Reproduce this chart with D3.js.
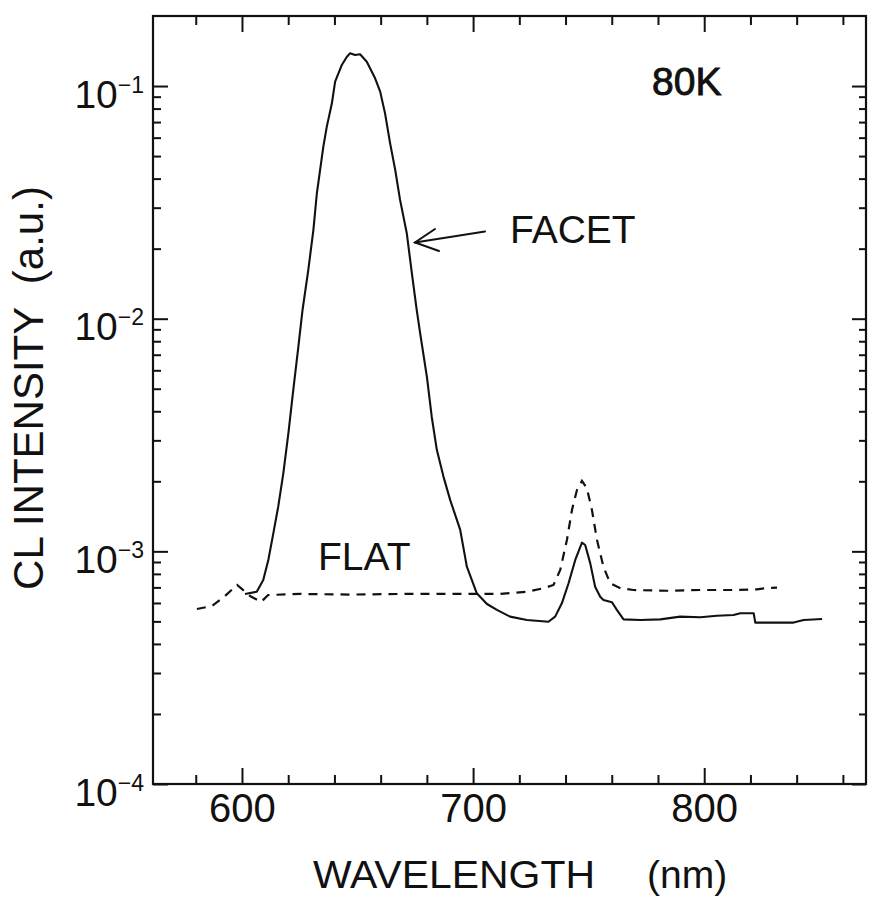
<!DOCTYPE html>
<html>
<head>
<meta charset="utf-8">
<script src="https://cdn.jsdelivr.net/npm/d3@7"></script>
<style>
  html, body { margin: 0; padding: 0; background: #fff; }
  svg { display: block; }
  text { font-family: "Liberation Sans", Arial, Helvetica, sans-serif; fill: #111; }
</style>
</head>
<body>
<svg id="chart" width="869" height="907"></svg>
<script>
// Cathodoluminescence spectra at 80 K: facet vs flat region
// wavelength (nm), intensity (a.u.)
const facetWavelength = [601.3, 606.4, 609.2, 611.4, 613.6, 615.7, 617.9, 620.1, 622.2, 624.4,
  626.2, 628.7, 630.9, 632.4, 635.2, 636.7, 638.9, 640.3, 643.2, 645.4,
  646.8, 648.9, 651.1, 654.0, 657.6, 659.8, 661.9, 664.1, 666.3, 668.4,
  671.3, 673.5, 675.6, 677.1, 680.0, 682.1, 684.3, 687.2, 690.1, 694.4,
  697.3, 701.6, 706.0, 710.3, 716.0, 723.3, 732.6, 735.5, 738.4, 741.3,
  744.2, 747.1, 748.5, 750.7, 752.8, 755.0, 756.4, 760.1, 762.2, 765.1,
  772.3, 781.0, 789.6, 798.3, 805.5, 812.7, 815.6, 821.4, 822.1, 827.2,
  834.4, 838.7, 843.0, 851.0];
const facetIntensity = [6.56e-4, 6.71e-4, 7.53e-4, 9.18e-4, 1.20e-3, 1.56e-3, 2.17e-3, 3.23e-3, 4.94e-3, 7.58e-3,
  1.09e-2, 1.62e-2, 2.41e-2, 3.46e-2, 5.49e-2, 6.69e-2, 8.43e-2, 0.1044, 0.1232, 0.1337,
  0.1383, 0.1360, 0.1369, 0.1272, 0.1080, 9.46e-2, 7.63e-2, 5.67e-2, 4.36e-2, 3.24e-2,
  2.33e-2, 1.57e-2, 1.09e-2, 8.65e-3, 5.63e-3, 3.79e-3, 2.73e-3, 2.09e-3, 1.66e-3, 1.24e-3,
  8.59e-4, 6.60e-4, 5.94e-4, 5.60e-4, 5.24e-4, 5.07e-4, 4.98e-4, 5.24e-4, 5.98e-4, 7.29e-4,
  9.18e-4, 1.09e-3, 1.065e-3, 8.88e-4, 7.05e-4, 6.38e-4, 6.18e-4, 6.04e-4, 5.60e-4, 5.10e-4,
  5.07e-4, 5.10e-4, 5.24e-4, 5.21e-4, 5.29e-4, 5.33e-4, 5.42e-4, 5.42e-4, 4.94e-4, 4.94e-4,
  4.94e-4, 4.94e-4, 5.07e-4, 5.12e-4];

const flatWavelength = [580.5, 587.0, 592.2, 597.9, 603.5, 608.3, 611.3, 625.1, 646.8, 668.4,
  690.1, 711.7, 723.3, 730.5, 734.8, 737.7, 740.6, 742.8, 744.9, 747.1,
  749.2, 751.4, 753.6, 756.4, 759.3, 763.7, 769.4, 783.9, 798.3, 812.7,
  822.8, 827.2, 831.5];
const flatIntensity = [5.65e-4, 5.82e-4, 6.37e-4, 7.17e-4, 6.43e-4, 6.06e-4, 6.49e-4, 6.56e-4, 6.52e-4, 6.56e-4,
  6.56e-4, 6.56e-4, 6.71e-4, 6.94e-4, 7.17e-4, 8.32e-4, 1.12e-3, 1.51e-3, 1.83e-3, 2.01e-3,
  1.87e-3, 1.51e-3, 1.12e-3, 8.59e-4, 7.29e-4, 6.94e-4, 6.82e-4, 6.77e-4, 6.82e-4, 6.82e-4,
  6.87e-4, 6.96e-4, 6.99e-4];

const xDomain = [561.5, 870];
const yDomain = [1e-4, 0.2];
const xMajorTicks = [600, 700, 800];
const xMinorTicks = [580, 620, 640, 660, 680, 720, 740, 760, 780, 820, 840, 860];
const yMajorTicks = [1e-4, 1e-3, 1e-2, 1e-1];
const yMajorExponents = ["\u22124", "\u22123", "\u22122", "\u22121"];
const yMinorTicks = [];
[1e-4, 1e-3, 1e-2].forEach(d => { for (let m = 2; m <= 9; m++) yMinorTicks.push(+(m * d).toPrecision(3)); });

const margin = { left: 153, right: 3, top: 16, bottom: 123 };
const W = 869, H = 907;
const svg = d3.select("#chart");

const x = d3.scaleLinear().domain(xDomain).range([margin.left, W - margin.right]);
const y = d3.scaleLog().domain(yDomain).range([H - margin.bottom, margin.top]);
const x0 = x.range()[0], x1 = x.range()[1], y0 = y.range()[0], y1 = y.range()[1];

const ink = "#111";

function styleAxis(g) {
  g.select(".domain").remove();
  g.selectAll(".tick line").attr("stroke", ink).attr("stroke-width", 2);
}

// bottom axis (ticks point inward)
svg.append("g").attr("transform", `translate(0,${y0})`)
  .call(d3.axisBottom(x).tickValues(xMinorTicks).tickSize(-9).tickFormat(""))
  .call(styleAxis);
const xb = svg.append("g").attr("transform", `translate(0,${y0})`)
  .call(d3.axisBottom(x).tickValues(xMajorTicks).tickSize(-16).tickFormat(d3.format("d")))
  .call(styleAxis);
xb.selectAll(".tick text")
  .attr("y", 38).attr("dy", null)
  .attr("font-size", 40).attr("fill", ink)
  .style("font-family", "'Liberation Sans', Arial, sans-serif");

// top axis
svg.append("g").attr("transform", `translate(0,${y1})`)
  .call(d3.axisTop(x).tickValues(xMinorTicks).tickSize(-9).tickFormat(""))
  .call(styleAxis);
svg.append("g").attr("transform", `translate(0,${y1})`)
  .call(d3.axisTop(x).tickValues(xMajorTicks).tickSize(-16).tickFormat(""))
  .call(styleAxis);

// left axis
svg.append("g").attr("transform", `translate(${x0},0)`)
  .call(d3.axisLeft(y).tickValues(yMinorTicks).tickSize(-8).tickFormat(""))
  .call(styleAxis);
const yl = svg.append("g").attr("transform", `translate(${x0},0)`)
  .call(d3.axisLeft(y).tickValues(yMajorTicks).tickSize(-15).tickFormat(""))
  .call(styleAxis);
yl.selectAll(".tick text").remove();
yl.selectAll(".tick").each(function (d, i) {
  const t = d3.select(this).append("text")
    .attr("x", -9).attr("y", 21)
    .attr("text-anchor", "end")
    .attr("fill", ink)
    .attr("font-size", 39);
  t.append("tspan").text("10");
  t.append("tspan").attr("dy", -15).attr("font-size", 23).text(yMajorExponents[i]);
});

// right axis
svg.append("g").attr("transform", `translate(${x1},0)`)
  .call(d3.axisRight(y).tickValues(yMinorTicks).tickSize(-7).tickFormat(""))
  .call(styleAxis);
svg.append("g").attr("transform", `translate(${x1},0)`)
  .call(d3.axisRight(y).tickValues(yMajorTicks).tickSize(-14).tickFormat(""))
  .call(styleAxis);

// frame
svg.append("rect")
  .attr("x", x0).attr("y", y1)
  .attr("width", x1 - x0).attr("height", y0 - y1)
  .attr("fill", "none").attr("stroke", ink).attr("stroke-width", 2.2);

// spectra
const line = d3.line().x(d => x(d[0])).y(d => y(d[1]));
const facet = d3.zip(facetWavelength, facetIntensity);
const flat = d3.zip(flatWavelength, flatIntensity);

svg.append("path").datum(flat)
  .attr("d", line)
  .attr("fill", "none").attr("stroke", ink)
  .attr("stroke-width", 2.2).attr("stroke-dasharray", "9,7");

svg.append("path").datum(facet)
  .attr("d", line)
  .attr("fill", "none").attr("stroke", ink)
  .attr("stroke-width", 2.1).attr("stroke-linejoin", "round");

// axis titles
svg.append("text")
  .attr("x", 313).attr("y", 888)
  .attr("font-size", 39).attr("fill", ink)
  .attr("textLength", 282).attr("lengthAdjust", "spacingAndGlyphs")
  .text("WAVELENGTH");
svg.append("text")
  .attr("x", 647).attr("y", 888)
  .attr("font-size", 39).attr("fill", ink)
  .text("(nm)");

svg.append("text")
  .attr("transform", "translate(43,388) rotate(-90)")
  .attr("text-anchor", "middle")
  .attr("font-size", 42).attr("fill", ink)
  .attr("xml:space", "preserve")
  .style("white-space", "pre")
  .text("CL INTENSITY  (a.u.)");

// annotations
svg.append("text")
  .attr("x", 652).attr("y", 95)
  .attr("font-size", 39).attr("fill", ink)
  .attr("stroke", ink).attr("stroke-width", 0.9)
  .text("80K");

svg.append("text")
  .attr("x", 510).attr("y", 243)
  .attr("font-size", 39).attr("fill", ink)
  .text("FACET");

svg.append("text")
  .attr("x", 318).attr("y", 570)
  .attr("font-size", 39).attr("fill", ink)
  .text("FLAT");

// arrow pointing at the facet curve
const arrow = svg.append("g").attr("stroke", ink).attr("stroke-width", 2).attr("fill", "none")
  .attr("stroke-linecap", "round");
arrow.append("line").attr("x1", 485).attr("y1", 231.5).attr("x2", 415).attr("y2", 242.5);
arrow.append("polyline").attr("points", "435,229 415,242.5 439,251");
</script>
</body>
</html>
